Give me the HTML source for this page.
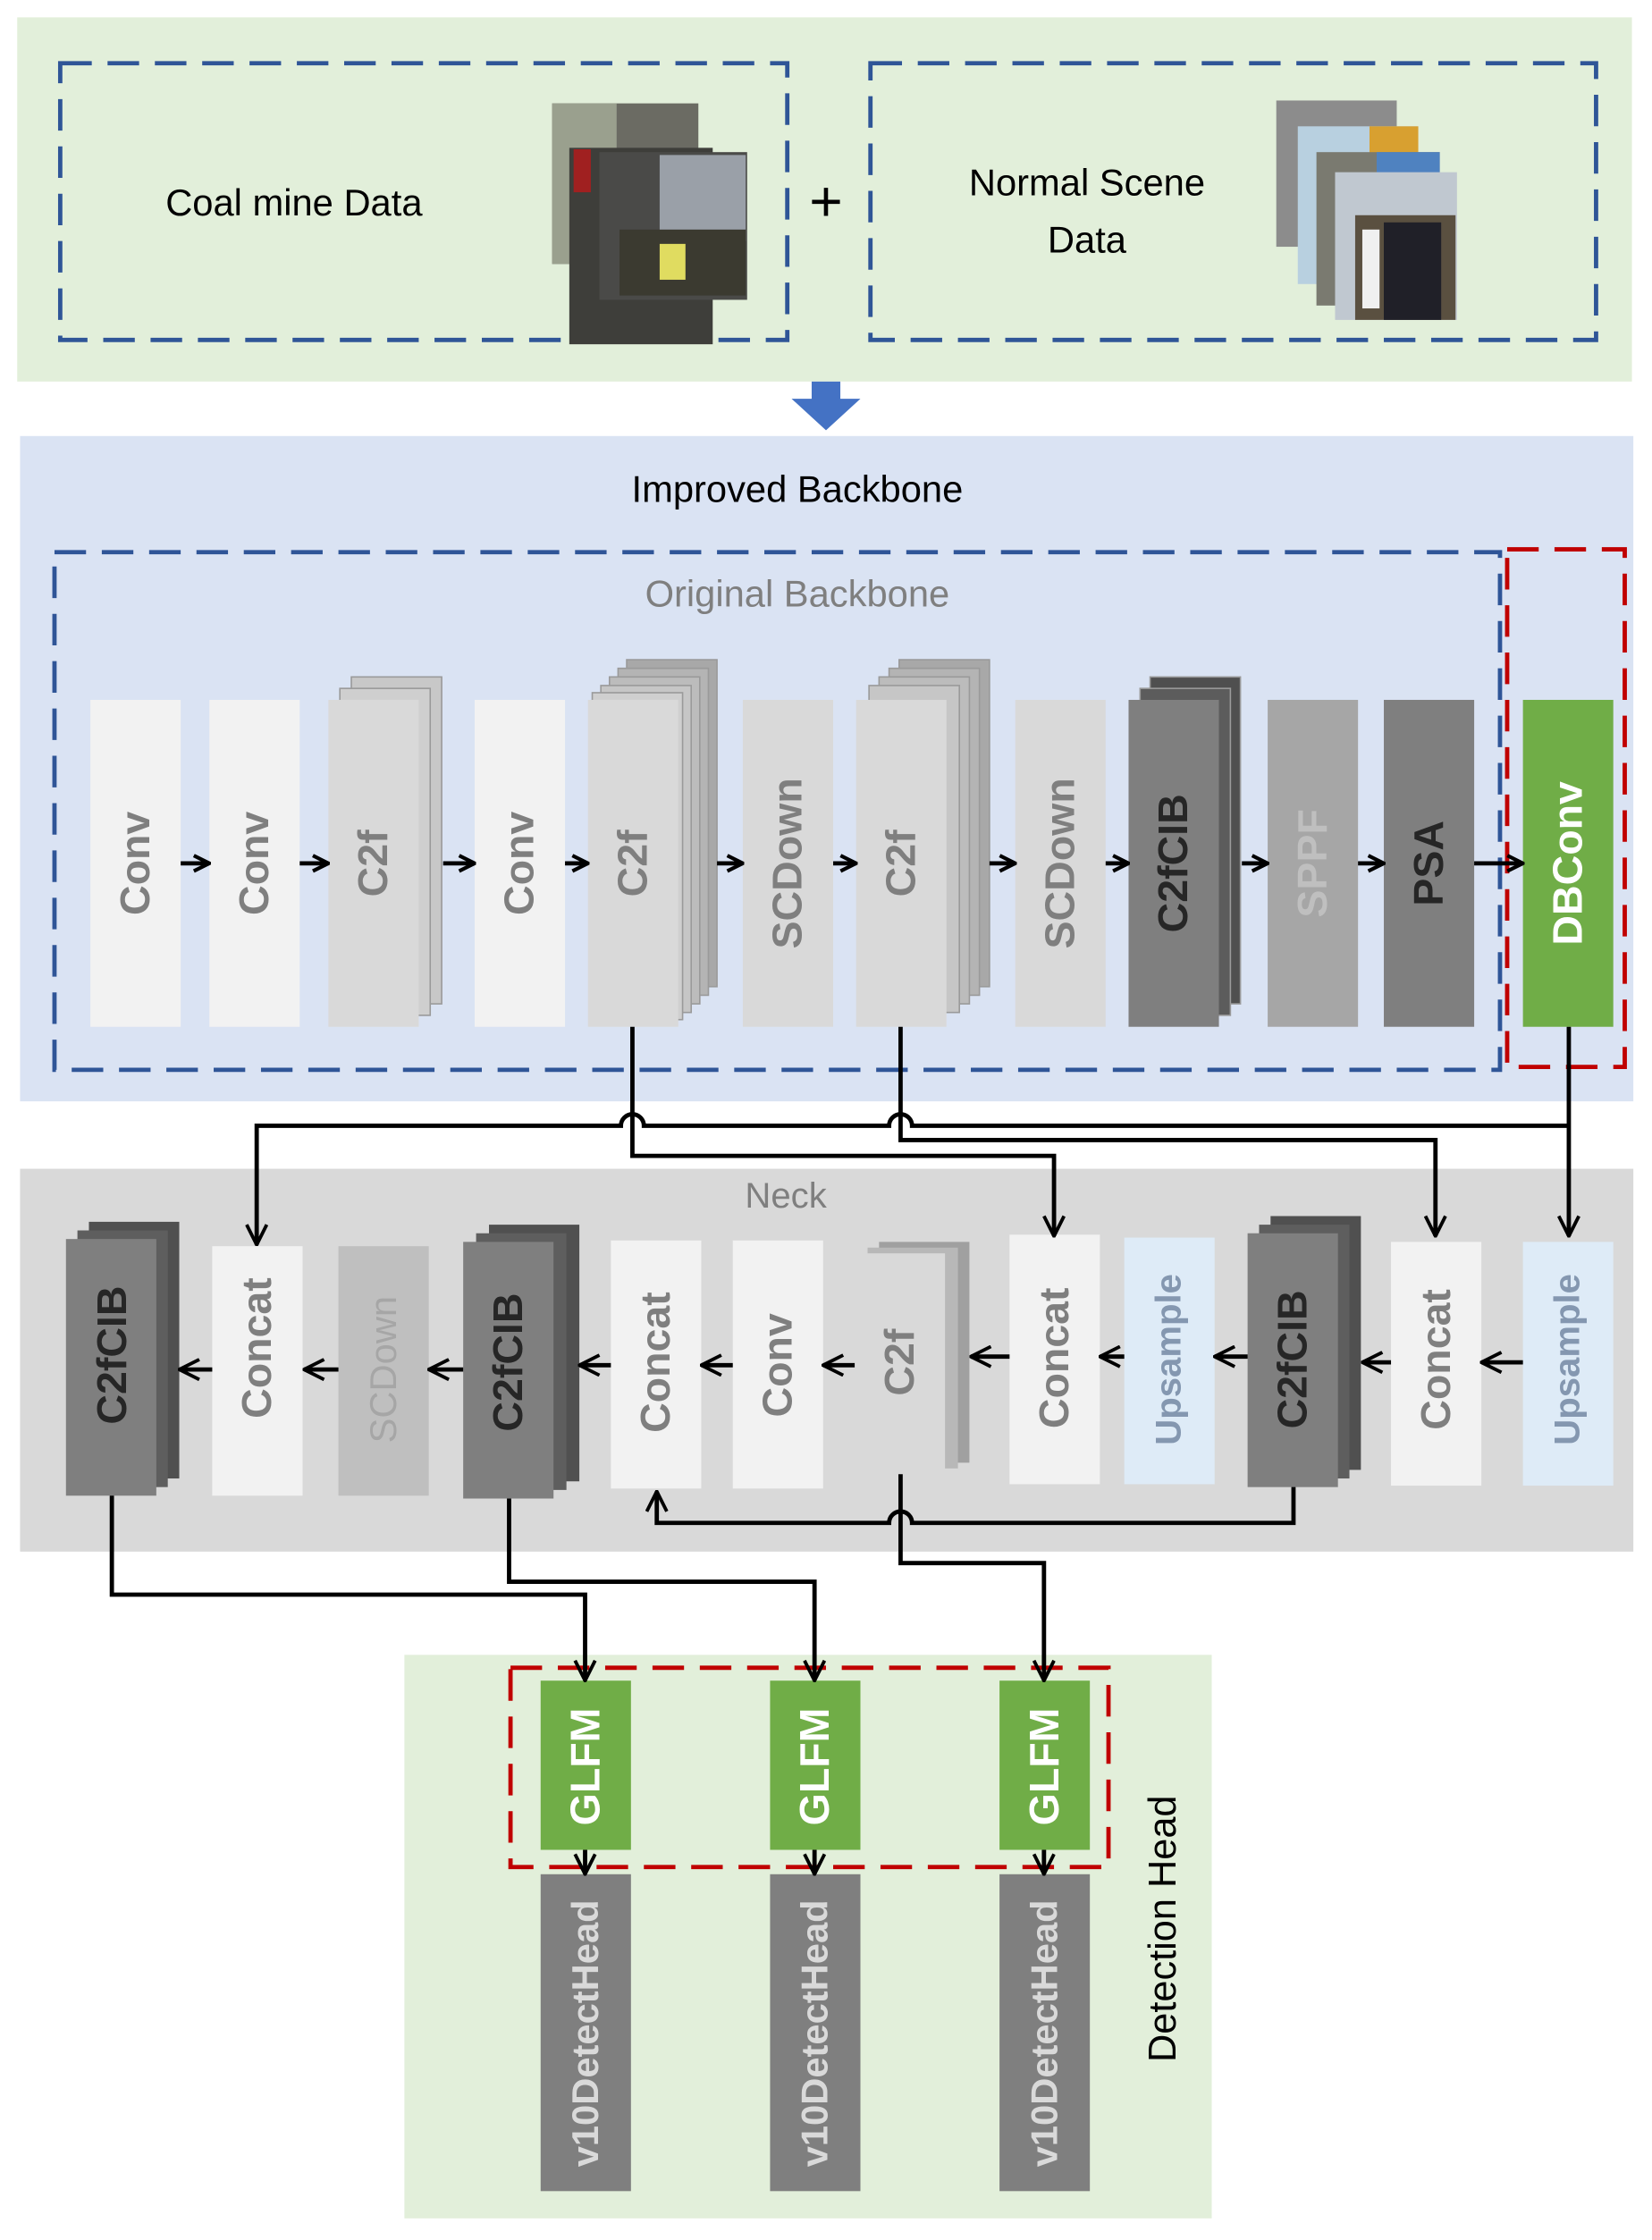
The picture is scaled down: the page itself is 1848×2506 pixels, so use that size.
<!DOCTYPE html>
<html><head><meta charset="utf-8"><style>
html,body{margin:0;padding:0;background:#fff;}
svg{display:block;}
text{font-family:"Liberation Sans",Arial,sans-serif;}
.b{font-weight:bold;font-size:29px;}
</style></head><body>
<svg width="1848" height="2506" viewBox="0 0 1152 1562" xmlns="http://www.w3.org/2000/svg">
<defs>
<marker id="a" viewBox="0 0 12 12" refX="11" refY="6" markerWidth="13" markerHeight="13" markerUnits="userSpaceOnUse" orient="auto">
<path d="M1,1 L11,6 L1,11" fill="none" stroke="#000" stroke-width="2.4"/></marker>
<marker id="ab" viewBox="0 0 16 16" refX="15" refY="8" markerWidth="16" markerHeight="16" markerUnits="userSpaceOnUse" orient="auto">
<path d="M1,1 L15,8 L1,15" fill="none" stroke="#000" stroke-width="2.4"/></marker>
</defs>
<rect width="1152" height="1562" fill="#fff"/>
<!-- top panel -->
<rect x="12" y="12" width="1126" height="254" fill="#e2efda"/>
<rect x="42" y="44" width="507" height="193" fill="none" stroke="#2f5597" stroke-width="3" stroke-dasharray="22,11"/>
<rect x="607" y="44" width="506" height="193" fill="none" stroke="#2f5597" stroke-width="3" stroke-dasharray="22,11"/>
<text x="205" y="150" font-size="26" text-anchor="middle" fill="#000">Coal mine Data</text>
<text x="576" y="154" font-size="40" text-anchor="middle" fill="#000">+</text>
<text x="758" y="136" font-size="26" text-anchor="middle" fill="#000">Normal Scene</text>
<text x="758" y="176" font-size="26" text-anchor="middle" fill="#000">Data</text>
<!-- coal images -->
<rect x="385" y="72" width="102" height="112" fill="#6b6b63"/>
<rect x="385" y="72" width="45" height="112" fill="#9aa08e"/>
<rect x="397" y="103" width="100" height="137" fill="#3e3e3a"/>
<rect x="400" y="104" width="12" height="30" fill="#a02020"/>
<rect x="418" y="106" width="103" height="103" fill="#4a4a48"/>
<rect x="460" y="108" width="60" height="60" fill="#9aa0a8"/>
<rect x="432" y="160" width="88" height="46" fill="#3b3a30"/>
<rect x="460" y="170" width="18" height="25" fill="#e0dc60"/>
<!-- normal images -->
<rect x="890" y="70" width="84" height="102" fill="#8c8c8c"/>
<rect x="905" y="88" width="84" height="110" fill="#b8d0e0"/>
<rect x="955" y="88" width="34" height="30" fill="#d8a030"/>
<rect x="918" y="106" width="86" height="107" fill="#7a7a70"/>
<rect x="960" y="106" width="44" height="25" fill="#4f82c0"/>
<rect x="931" y="120" width="85" height="103" fill="#c0c8d0"/>
<rect x="945" y="150" width="70" height="73" fill="#5a5040"/>
<rect x="950" y="160" width="12" height="55" fill="#f0f0f0"/>
<rect x="965" y="155" width="40" height="68" fill="#202028"/>
<!-- blue down arrow -->
<path d="M566,266 L586,266 L586,278 L600,278 L576,300 L552,278 L566,278 Z" fill="#4472c4"/>
<!-- backbone panel -->
<rect x="14" y="304" width="1125" height="464" fill="#dae3f3"/>
<text x="556" y="350" font-size="26" text-anchor="middle" fill="#000">Improved Backbone</text>
<rect x="38" y="385" width="1008" height="361" fill="none" stroke="#2f5597" stroke-width="3" stroke-dasharray="22,11"/>
<text x="556" y="423" font-size="26" text-anchor="middle" fill="#7f7f7f">Original Backbone</text>
<rect x="1051" y="383" width="82" height="361" fill="none" stroke="#c00000" stroke-width="3" stroke-dasharray="22,11"/>
<!-- stacks -->
<g fill="#d9d9d9" stroke="#9a9a9a" stroke-width="1">
<rect x="245" y="472" width="63" height="228" fill="#c8c8c8"/>
<rect x="237" y="480" width="63" height="228" fill="#cfcfcf"/>
<rect x="437" y="460" width="63" height="228" fill="#a8a8a8"/>
<rect x="431" y="466" width="63" height="228" fill="#b4b4b4"/>
<rect x="425" y="472" width="63" height="228" fill="#bcbcbc"/>
<rect x="419" y="478" width="63" height="228" fill="#c6c6c6"/>
<rect x="413" y="483" width="63" height="228" fill="#cfcfcf"/>
<rect x="627" y="460" width="63" height="228" fill="#a8a8a8"/>
<rect x="620" y="466" width="63" height="228" fill="#b4b4b4"/>
<rect x="613" y="472" width="63" height="228" fill="#bcbcbc"/>
<rect x="606" y="478" width="63" height="228" fill="#c6c6c6"/>
<rect x="802" y="472" width="63" height="228" fill="#4f4f4f"/>
<rect x="795" y="480" width="63" height="228" fill="#5c5c5c"/>
</g>
<rect x="63" y="488" width="63" height="228" fill="#f2f2f2"/>
<rect x="146" y="488" width="63" height="228" fill="#f2f2f2"/>
<rect x="229" y="488" width="63" height="228" fill="#d9d9d9"/>
<rect x="331" y="488" width="63" height="228" fill="#f2f2f2"/>
<rect x="410" y="488" width="63" height="228" fill="#d9d9d9"/>
<rect x="518" y="488" width="63" height="228" fill="#d9d9d9"/>
<rect x="597" y="488" width="63" height="228" fill="#d9d9d9"/>
<rect x="708" y="488" width="63" height="228" fill="#d9d9d9"/>
<rect x="787" y="488" width="63" height="228" fill="#7f7f7f"/>
<rect x="884" y="488" width="63" height="228" fill="#a6a6a6"/>
<rect x="965" y="488" width="63" height="228" fill="#7f7f7f"/>
<rect x="1062" y="488" width="63" height="228" fill="#70ad47"/>
<g class="b" text-anchor="middle" dominant-baseline="central">
<text transform="translate(94,602) rotate(-90)" fill="#7f7f7f">Conv</text>
<text transform="translate(177,602) rotate(-90)" fill="#7f7f7f">Conv</text>
<text transform="translate(260,602) rotate(-90)" fill="#7f7f7f">C2f</text>
<text transform="translate(362,602) rotate(-90)" fill="#7f7f7f">Conv</text>
<text transform="translate(441,602) rotate(-90)" fill="#7f7f7f">C2f</text>
<text transform="translate(549,602) rotate(-90)" fill="#7f7f7f">SCDown</text>
<text transform="translate(628,602) rotate(-90)" fill="#7f7f7f">C2f</text>
<text transform="translate(739,602) rotate(-90)" fill="#7f7f7f">SCDown</text>
<text transform="translate(818,602) rotate(-90)" fill="#262626">C2fCIB</text>
<text transform="translate(915,602) rotate(-90)" fill="#bfbfbf">SPPF</text>
<text transform="translate(996,602) rotate(-90)" fill="#262626">PSA</text>
<text transform="translate(1093,602) rotate(-90)" fill="#fff">DBConv</text>
</g>
<g stroke="#000" stroke-width="3" marker-end="url(#a)">
<line x1="126" y1="602" x2="146" y2="602"/>
<line x1="209" y1="602" x2="229" y2="602"/>
<line x1="309" y1="602" x2="331" y2="602"/>
<line x1="394" y1="602" x2="410" y2="602"/>
<line x1="500" y1="602" x2="518" y2="602"/>
<line x1="581" y1="602" x2="597" y2="602"/>
<line x1="690" y1="602" x2="708" y2="602"/>
<line x1="771" y1="602" x2="787" y2="602"/>
<line x1="866" y1="602" x2="884" y2="602"/>
<line x1="947" y1="602" x2="965" y2="602"/>
<line x1="1028" y1="602" x2="1062" y2="602"/>
</g>
<!-- neck panel -->
<rect x="14" y="815" width="1125" height="267" fill="#d9d9d9"/>
<text x="548" y="842" font-size="25" text-anchor="middle" fill="#7f7f7f">Neck</text>
<g stroke="none">
<rect x="62" y="852" width="63" height="179" fill="#505050"/>
<rect x="54" y="858" width="63" height="179" fill="#5e5e5e"/>
<rect x="341" y="854" width="63" height="179" fill="#505050"/>
<rect x="332" y="860" width="63" height="179" fill="#5e5e5e"/>
<rect x="613" y="866" width="63" height="154" fill="#a0a0a0"/>
<rect x="605" y="870" width="63" height="154" fill="#b8b8b8"/>
<rect x="886" y="848" width="63" height="177" fill="#505050"/>
<rect x="878" y="854" width="63" height="177" fill="#5e5e5e"/>
</g>
<rect x="46" y="864" width="63" height="179" fill="#7f7f7f"/>
<rect x="148" y="869" width="63" height="174" fill="#f2f2f2"/>
<rect x="236" y="869" width="63" height="174" fill="#bfbfbf"/>
<rect x="323" y="866" width="63" height="179" fill="#7f7f7f"/>
<rect x="426" y="865" width="63" height="173" fill="#f2f2f2"/>
<rect x="511" y="865" width="63" height="173" fill="#f2f2f2"/>
<rect x="596" y="874" width="63" height="154" fill="#d9d9d9"/>
<rect x="704" y="861" width="63" height="174" fill="#f2f2f2"/>
<rect x="784" y="863" width="63" height="172" fill="#deebf7"/>
<rect x="870" y="860" width="63" height="177" fill="#7f7f7f"/>
<rect x="970" y="866" width="63" height="170" fill="#f2f2f2"/>
<rect x="1062" y="866" width="63" height="170" fill="#deebf7"/>
<g class="b" text-anchor="middle" dominant-baseline="central">
<text transform="translate(78,945) rotate(-90)" fill="#262626">C2fCIB</text>
<text transform="translate(179,940) rotate(-90)" fill="#7f7f7f">Concat</text>
<text transform="translate(267,955) rotate(-90)" fill="#a6a6a6" font-weight="normal" font-size="26">SCDown</text>
<text transform="translate(354,950) rotate(-90)" fill="#262626">C2fCIB</text>
<text transform="translate(457,950) rotate(-90)" fill="#7f7f7f">Concat</text>
<text transform="translate(542,952) rotate(-90)" fill="#7f7f7f">Conv</text>
<text transform="translate(627,950) rotate(-90)" fill="#7f7f7f">C2f</text>
<text transform="translate(735,947) rotate(-90)" fill="#7f7f7f">Concat</text>
<text transform="translate(815,948) rotate(-90)" fill="#8497b0" font-size="25">Upsample</text>
<text transform="translate(901,948) rotate(-90)" fill="#262626">C2fCIB</text>
<text transform="translate(1001,948) rotate(-90)" fill="#7f7f7f">Concat</text>
<text transform="translate(1093,948) rotate(-90)" fill="#8497b0" font-size="25">Upsample</text>
</g>
<g stroke="#000" stroke-width="3" marker-end="url(#ab)">
<line x1="148" y1="955" x2="125" y2="955"/>
<line x1="236" y1="955" x2="212" y2="955"/>
<line x1="323" y1="955" x2="299" y2="955"/>
<line x1="426" y1="952" x2="404" y2="952"/>
<line x1="511" y1="952" x2="489" y2="952"/>
<line x1="596" y1="952" x2="574" y2="952"/>
<line x1="704" y1="946" x2="677" y2="946"/>
<line x1="784" y1="946" x2="767" y2="946"/>
<line x1="870" y1="946" x2="847" y2="946"/>
<line x1="970" y1="950" x2="950" y2="950"/>
<line x1="1062" y1="950" x2="1033" y2="950"/>
</g>
<!-- detection head -->
<rect x="282" y="1154" width="563" height="393" fill="#e2efda"/>
<rect x="377" y="1172" width="63" height="118" fill="#70ad47"/>
<rect x="537" y="1172" width="63" height="118" fill="#70ad47"/>
<rect x="697" y="1172" width="63" height="118" fill="#70ad47"/>
<rect x="377" y="1307" width="63" height="221" fill="#7f7f7f"/>
<rect x="537" y="1307" width="63" height="221" fill="#7f7f7f"/>
<rect x="697" y="1307" width="63" height="221" fill="#7f7f7f"/>
<rect x="356" y="1163" width="417" height="139" fill="none" stroke="#c00000" stroke-width="3" stroke-dasharray="22,11"/>
<g class="b" text-anchor="middle" dominant-baseline="central">
<text transform="translate(408,1232) rotate(-90)" fill="#fff">GLFM</text>
<text transform="translate(568,1232) rotate(-90)" fill="#fff">GLFM</text>
<text transform="translate(728,1232) rotate(-90)" fill="#fff">GLFM</text>
<text transform="translate(408,1418) rotate(-90)" fill="#d9d9d9" font-size="26">v10DetectHead</text>
<text transform="translate(568,1418) rotate(-90)" fill="#d9d9d9" font-size="26">v10DetectHead</text>
<text transform="translate(728,1418) rotate(-90)" fill="#d9d9d9" font-size="26">v10DetectHead</text>
</g>
<g stroke="#000" stroke-width="3" marker-end="url(#ab)">
<line x1="408" y1="1290" x2="408" y2="1307"/>
<line x1="568" y1="1290" x2="568" y2="1307"/>
<line x1="728" y1="1290" x2="728" y2="1307"/>
</g>
<text transform="translate(811,1345) rotate(-90)" text-anchor="middle" dominant-baseline="central" font-size="27" fill="#000">Detection Head</text>
<!-- connectors (drawn last) -->
<g fill="none" stroke="#000" stroke-width="3">
<path d="M1094,716 L1094,862" marker-end="url(#ab)"/>
<path d="M1094,785 L636,785 A8,8 0 0 0 620,785 L449,785 A8,8 0 0 0 433,785 L179,785 L179,868" marker-end="url(#ab)"/>
<path d="M441,716 L441,806 L735,806 L735,862" marker-end="url(#ab)"/>
<path d="M628,716 L628,795 L1001,795 L1001,862" marker-end="url(#ab)"/>
<path d="M902,1037 L902,1062 L636,1062 A8,8 0 0 0 620,1062 L458,1062 L458,1040" marker-end="url(#ab)"/>
<path d="M628,1028 L628,1090 L728,1090 L728,1172" marker-end="url(#ab)"/>
<path d="M355,1045 L355,1103 L568,1103 L568,1172" marker-end="url(#ab)"/>
<path d="M78,1043 L78,1112 L408,1112 L408,1172" marker-end="url(#ab)"/>
</g>
</svg>
</body></html>
